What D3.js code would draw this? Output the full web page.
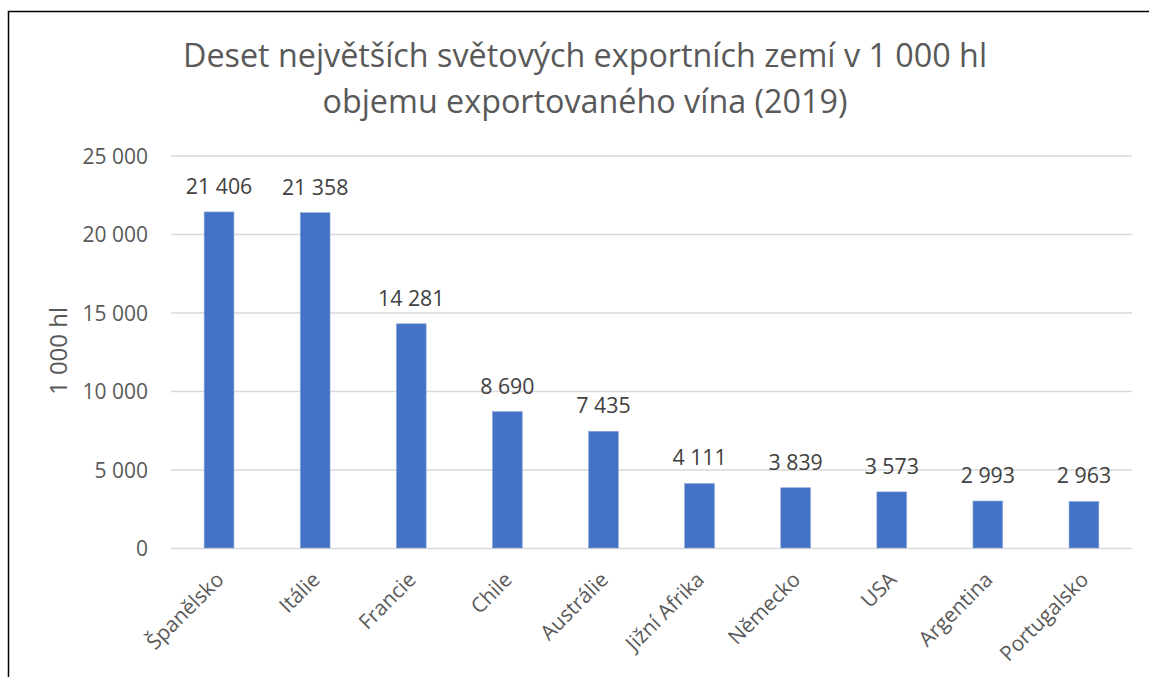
<!DOCTYPE html>
<html>
<head>
<meta charset="utf-8">
<script src="https://cdn.jsdelivr.net/npm/d3@7"></script>
<style>
  body { margin: 0; background: #fff; }
  text { font-family: "Open Sans", sans-serif; }
</style>
</head>
<body>
<div id="my_dataviz"></div>
<script>
// data
var countries = ["Španělsko", "Itálie", "Francie", "Chile", "Austrálie", "Jižní Afrika", "Německo", "USA", "Argentina", "Portugalsko"];
var volumes = [21406, 21358, 14281, 8690, 7435, 4111, 3839, 3573, 2993, 2963];
var yTicks = [0, 5000, 10000, 15000, 20000, 25000];
var titleLines = ["Deset největších světových exportních zemí v 1 000 hl", "objemu exportovaného vína (2019)"];
var yLabel = "1 000 hl";

var W = 1149, H = 677;
var margin = {top: 155.5, right: 17, bottom: 129, left: 171},
  width = W - margin.left - margin.right,
  height = H - margin.top - margin.bottom;

// thousands with a space, like the Czech format
var fmt = function(v) { return d3.format(",")(v).replace(/,/g, " "); };

var root = d3.select("#my_dataviz")
.append("svg")
  .attr("width", W)
  .attr("height", H);

// chart border (runs off the right and bottom edge)
root.append("rect")
  .attr("x", 8.5)
  .attr("y", 11.5)
  .attr("width", W + 20)
  .attr("height", H + 20)
  .style("fill", "none")
  .style("stroke", "#000")
  .style("stroke-width", 1.5);

// title
root.selectAll(".title")
  .data(titleLines)
  .enter()
  .append("text")
    .attr("class", "title")
    .attr("x", 585)
    .attr("y", function(d, i) { return 67 + i * 46; })
    .attr("text-anchor", "middle")
    .style("font-size", "32.3px")
    .style("fill", "#595959")
    .text(function(d) { return d; });

var svg = root.append("g")
  .attr("transform", "translate(" + margin.left + "," + margin.top + ")");

var x = d3.scaleBand()
  .range([0, width])
  .domain(countries)
  .padding(0.69);
x.paddingOuter(0.345);

var y = d3.scaleLinear()
  .domain([0, 25000])
  .range([height, 0]);

// gridlines + y labels
var yAxis = svg.append("g")
  .call(d3.axisLeft(y).tickValues(yTicks).tickSize(-width).tickPadding(23).tickFormat(fmt));
yAxis.select(".domain").remove();
yAxis.selectAll("line").style("stroke", "#d9d9d9").style("stroke-width", 1.3);
yAxis.selectAll("text")
  .style("font-size", "21px")
  .style("fill", "#595959")
  .attr("dy", "0.36em");

// y axis title
svg.append("text")
  .attr("transform", "translate(" + (67 - margin.left) + "," + (351 - margin.top) + ") rotate(-90)")
  .attr("text-anchor", "middle")
  .style("font-size", "24px")
  .style("fill", "#595959")
  .text(yLabel);

// bars
var data = countries.map(function(c, i) { return {name: c, value: volumes[i]}; });

svg.selectAll(".bar")
  .data(data)
  .enter()
  .append("rect")
    .attr("class", "bar")
    .attr("x", function(d) { return x(d.name); })
    .attr("y", function(d) { return y(d.value); })
    .attr("width", x.bandwidth())
    .attr("height", function(d) { return height - y(d.value); })
    .style("fill", "#4472c4")
    .style("stroke", "#8eaadb")
    .style("stroke-width", 0.6);

// value labels
svg.selectAll(".val")
  .data(data)
  .enter()
  .append("text")
    .attr("class", "val")
    .attr("x", function(d) { return x(d.name) + x.bandwidth() / 2; })
    .attr("y", function(d) { return y(d.value) - 18; })
    .attr("text-anchor", "middle")
    .style("font-size", "21.3px")
    .style("fill", "#404040")
    .text(function(d) { return fmt(d.value); });

// category labels, rotated
svg.selectAll(".cat")
  .data(data)
  .enter()
  .append("text")
    .attr("class", "cat")
    .attr("transform", function(d) {
      return "translate(" + (x(d.name) + x.bandwidth() / 2 + 6) + "," + (height + 33) + ") rotate(-45)";
    })
    .attr("text-anchor", "end")
    .style("font-size", "20.8px")
    .style("fill", "#595959")
    .text(function(d) { return d.name; });
</script>
</body>
</html>
